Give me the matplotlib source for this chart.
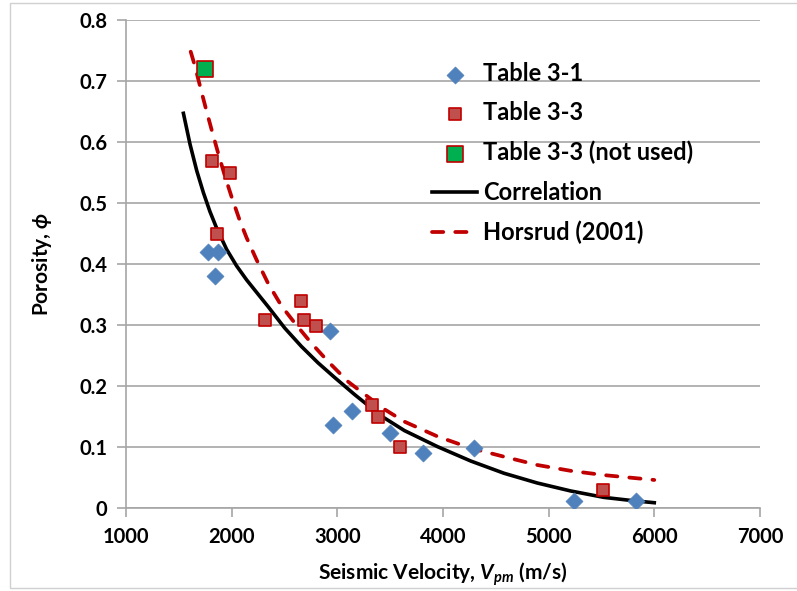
import matplotlib
matplotlib.use("Agg")
import matplotlib.pyplot as plt
from matplotlib.patches import Rectangle

plt.rcParams['font.family'] = ['Lato', 'DejaVu Sans']
plt.rcParams['font.weight'] = 'bold'
plt.rcParams['mathtext.fontset'] = 'custom'
plt.rcParams['mathtext.rm'] = 'Lato:bold'
plt.rcParams['mathtext.it'] = 'Lato:bold:italic'
plt.rcParams['mathtext.bf'] = 'Lato:bold'
plt.rcParams['mathtext.fallback'] = 'stixsans'

# Table 3-1 data
t31_v = [1780, 1870, 1840, 2930, 2960, 3140, 3500, 3810, 4290, 5245, 5830]
t31_phi = [0.42, 0.42, 0.38, 0.29, 0.136, 0.159, 0.123, 0.09, 0.099, 0.012, 0.012]

# Table 3-3 data
t33_v = [1810, 1985, 1865, 2315, 2655, 2685, 2795, 3325, 3390, 3590, 5515]
t33_phi = [0.569, 0.549, 0.449, 0.309, 0.339, 0.309, 0.299, 0.169, 0.15, 0.0995, 0.0295]

# Table 3-3 (not used)
t33x_v = [1750]
t33x_phi = [0.72]

# Correlation curve
corr_v = [1544, 1607, 1670, 1733, 1795, 1858, 1953, 2047, 2142, 2267, 2346, 2503,
          2660, 2818, 2975, 3164, 3415, 3635, 3950, 4264, 4578, 4893, 5208, 5522,
          5800, 6000]
corr_phi = [0.647, 0.596, 0.553, 0.517, 0.486, 0.459, 0.424, 0.397, 0.374, 0.347,
            0.330, 0.295, 0.265, 0.238, 0.214, 0.186, 0.151, 0.127, 0.1005, 0.077,
            0.057, 0.041, 0.028, 0.0175, 0.012, 0.0087]

# Horsrud (2001) curve
hors_v = [1613, 1654, 1686, 1717, 1764, 1811, 1874, 1937, 2000, 2078, 2142, 2237,
          2346, 2473, 2599, 2756, 2914, 3103, 3323, 3417, 3637, 3953, 4267, 4581,
          4894, 5208, 5522, 6000]
hors_phi = [0.748, 0.724, 0.702, 0.681, 0.650, 0.620, 0.581, 0.544, 0.510, 0.471,
            0.443, 0.4066, 0.368, 0.331, 0.303, 0.270, 0.240, 0.207, 0.178, 0.165,
            0.1415, 0.117, 0.098, 0.084, 0.0705, 0.061, 0.054, 0.046]

fig = plt.figure(figsize=(7.97, 5.91), dpi=100)
# light chart-area border (left, top, bottom)
fig.patches.append(Rectangle((10 / 797, 3 / 591), 1.0, 585 / 591, transform=fig.transFigure,
                             fill=False, edgecolor='#D0D0D0', lw=1.0))
ax = fig.add_axes([0.158, 0.1404, 0.7955, 0.8258])

ax.plot(corr_v, corr_phi, color='black', lw=2.6, label='Correlation', zorder=3)
ax.plot(hors_v, hors_phi, color='#C00000', lw=2.7, dashes=(3.0, 3.2),
        dash_capstyle='round', label='Horsrud (2001)', zorder=3)
ax.scatter(t31_v, t31_phi, marker='D', s=75, color='#4F81BD', edgecolors='#4F81BD',
           linewidths=0.5, label='Table 3-1', zorder=4)
ax.scatter(t33_v, t33_phi, marker='s', s=80, color='#C0504D', edgecolors='#C00000',
           linewidths=1.2, label='Table 3-3', zorder=4)
ax.scatter(t33x_v, t33x_phi, marker='s', s=120, color='#00B050', edgecolors='#C00000',
           linewidths=1.2, label='Table 3-3 (not used)', zorder=4)

ax.set_xlim(1000, 7000)
ax.set_ylim(0, 0.8)
ax.set_xticks(range(1000, 7001, 1000))
ax.set_yticks([0, 0.1, 0.2, 0.3, 0.4, 0.5, 0.6, 0.7, 0.8])
ax.set_yticklabels(['0', '0.1', '0.2', '0.3', '0.4', '0.5', '0.6', '0.7', '0.8'])
ax.yaxis.grid(True, color='#A6A6A6', lw=1.2)
ax.set_axisbelow(True)
for s in ['top', 'right']:
    ax.spines[s].set_visible(False)
for s in ['left', 'bottom']:
    ax.spines[s].set_color('#A6A6A6')
    ax.spines[s].set_linewidth(1.2)
ax.tick_params(axis='both', direction='out', length=6.5, color='#A6A6A6', width=1.2,
               labelsize=14.5, pad=7)

ax.set_xlabel(r'Seismic Velocity, $V_{pm}$ (m/s)', fontsize=15, fontweight='bold',
              labelpad=10)
ax.set_ylabel(r'Porosity, $\phi$', fontsize=15, fontweight='bold', labelpad=18)

handles, labels = ax.get_legend_handles_labels()
order = [2, 3, 4, 0, 1]
ax.legend([handles[i] for i in order], [labels[i] for i in order],
          loc='upper left', bbox_to_anchor=(0.45, 0.958), frameon=False,
          fontsize=17, labelspacing=0.7, handlelength=1.9, handletextpad=0.25)

fig.savefig('out.png', dpi=100)
